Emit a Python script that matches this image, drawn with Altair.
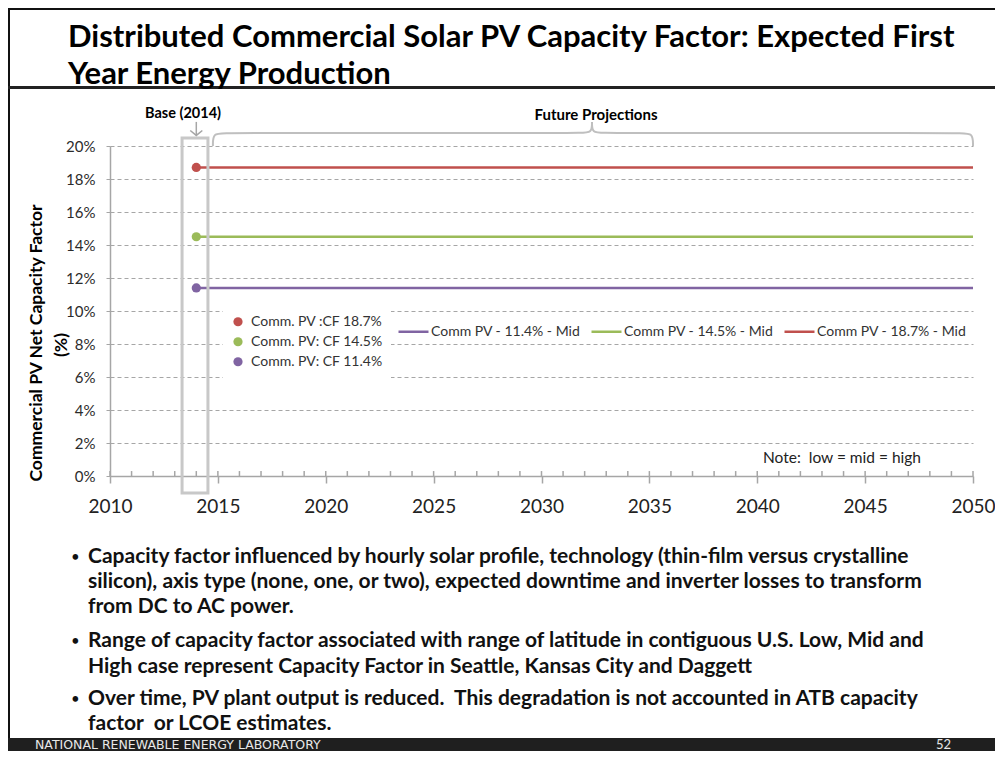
import altair as alt
import pandas as pd

# ---------------- data ----------------
years = list(range(2014, 2051))
line_labels = ["Comm PV - 11.4% - Mid", "Comm PV - 14.5% - Mid", "Comm PV - 18.7% - Mid"]
line_values = [0.114, 0.145, 0.187]
line_colors = ["#8064A2", "#9BBB59", "#C0504D"]

point_labels = ["Comm. PV :CF 18.7%", "Comm. PV: CF 14.5%", "Comm. PV: CF 11.4%"]
point_values = [0.187, 0.145, 0.114]
point_colors = ["#C0504D", "#9BBB59", "#8064A2"]
base_year = 2014

x_ticks = [2010, 2015, 2020, 2025, 2030, 2035, 2040, 2045, 2050]
minor_years = list(range(2010, 2051))
y_ticks = [0, 0.02, 0.04, 0.06, 0.08, 0.10, 0.12, 0.14, 0.16, 0.18, 0.20]

NB = "\u00a0"
title_lines = ["Distributed Commercial Solar PV Capacity Factor: Expected First",
               "Year Energy Production"]
bullets = [
    ["Capacity factor influenced by hourly solar profile, technology (thin-film versus crystalline",
     "silicon), axis type (none, one, or two), expected downtime and inverter losses to transform",
     "from DC to AC power."],
    ["Range of capacity factor associated with range of latitude in contiguous U.S. Low, Mid and",
     "High case represent Capacity Factor in Seattle, Kansas City and Daggett"],
    ["Over time, PV plant output is reduced." + NB + " This degradation is not accounted in ATB capacity",
     "factor" + NB + " or LCOE estimates."],
]
y_title = ["Commercial PV Net Capacity Factor", "(%)"]
note_text = "Note:" + NB + " low = mid = high"
footer_text = "NATIONAL RENEWABLE ENERGY LABORATORY"
page_number = "52"

# ---------------- layout helpers ----------------
OX, OY = 110, 146  # page position of plot origin
FONT = "Lato"
ONE = alt.Data(values=[{"t": ""}])

xs = alt.Scale(domain=[2010, 2050], nice=False, zero=False)
ys = alt.Scale(domain=[0, 0.2], nice=False, zero=False)


def txt(s, px, py, size, bold=False, align="left", baseline="alphabetic",
        color="#000000", font=FONT, angle=None):
    kw = dict(align=align, baseline=baseline, fontSize=size, font=font,
              fontWeight="bold" if bold else "normal", color=color)
    if angle is not None:
        kw["angle"] = angle
    return alt.Chart(alt.Data(values=[{"t": s}])).mark_text(**kw).encode(
        text="t:N", x=alt.value(px - OX), y=alt.value(py - OY))


def prule(x1, x2, y1, y2, color, width):
    return alt.Chart(ONE).mark_rule(color=color, strokeWidth=width).encode(
        x=alt.value(x1 - OX), x2=alt.value(x2 - OX),
        y=alt.value(y1 - OY), y2=alt.value(y2 - OY))


# ---------------- data tables ----------------
line_df = pd.DataFrame(
    [{"year": y, "val": v, "ln": lab} for lab, v in zip(line_labels, line_values) for y in years])
point_df = pd.DataFrame({"year": [base_year] * 3, "val": point_values, "pt": point_labels})
minor_df = pd.DataFrame({"year": minor_years})

# ---------------- chart marks ----------------
lines = alt.Chart(line_df).mark_line(strokeWidth=2.5).encode(
    x=alt.X("year:Q", scale=xs, title=None,
            axis=alt.Axis(values=x_ticks, format="d", labelFont=FONT, labelFontSize=19,
                          labelColor="#222222", tickSize=7, tickColor="#A6A6A6", tickWidth=1.5,
                          domainColor="#A6A6A6", domainWidth=1.5, labelPadding=14, grid=False,
                          tickCount=40, labelFlush=False, labelOverlap=False, title=None)),
    y=alt.Y("val:Q", scale=ys, title=None,
            axis=alt.Axis(values=y_ticks, format=".0%", labelFont=FONT, labelFontSize=15,
                          labelColor="#2B2B2B", tickSize=5, tickColor="#A6A6A6", tickDash=[4, 3],
                          grid=True, gridColor="#A6A6A6", gridDash=[4, 3], gridWidth=1,
                          domainColor="#A6A6A6", domainWidth=1.5, labelPadding=10,
                          tickCount=40, labelOverlap=False, labelFlush=False, title=None)),
    color=alt.Color("ln:N", scale=alt.Scale(domain=line_labels, range=line_colors),
                    legend=alt.Legend(title=None, orient="none", direction="horizontal",
                                      legendX=287, legendY=169, symbolType="stroke",
                                      symbolSize=900, symbolStrokeWidth=2.5,
                                      labelFont=FONT, labelFontSize=14, labelColor="#333333",
                                      labelOffset=1, columnPadding=5, padding=0)),
)

points = alt.Chart(point_df).mark_circle(size=85, opacity=1).encode(
    x=alt.X("year:Q", title=None),
    y=alt.Y("val:Q", title=None),
    color=alt.Color("pt:N", scale=alt.Scale(domain=point_labels, range=point_colors),
                    legend=alt.Legend(title=None, orient="none", legendX=113, legendY=158,
                                      symbolType="circle", symbolSize=85, symbolStrokeWidth=0,
                                      labelFont=FONT, labelFontSize=14, labelColor="#333333",
                                      labelOffset=6, fillColor="white", padding=8,
                                      clipHeight=19.5, rowPadding=0)),
)

minor_ticks = alt.Chart(minor_df).mark_rule(color="#A6A6A6", strokeWidth=1.5).encode(
    x=alt.X("year:Q", title=None),
    y=alt.YDatum(0, title=None),
    y2=alt.Y2Datum(0.003),
)

# Base (2014) highlight box and arrow, in data coordinates
box = alt.Chart(ONE).mark_rect(fillOpacity=0, stroke="#C8C8C8", strokeWidth=3).encode(
    x=alt.XDatum(2013.34, title=None), x2=alt.X2Datum(2014.54),
    y=alt.YDatum(-0.0103, title=None), y2=alt.Y2Datum(0.2048))

arrow_shaft = alt.Chart(ONE).mark_rule(color="#A6A6A6", strokeWidth=1.5).encode(
    x=alt.XDatum(2014, title=None), y=alt.YDatum(0.2146, title=None), y2=alt.Y2Datum(0.2064))
arrow_head_df = pd.DataFrame({"ax": [2013.72, 2014, 2014.28], "ay": [0.2094, 0.2064, 0.2094]})
arrow_head = alt.Chart(arrow_head_df).mark_line(color="#A6A6A6", strokeWidth=1.5).encode(
    x=alt.X("ax:Q", title=None), y=alt.Y("ay:Q", title=None), order="ax:Q")

brace_df = pd.DataFrame({
    "bx": [2014.77, 2014.77, 2015.33, 2031.78, 2032.34, 2032.34,
           2050.0, 2050.0, 2049.45, 2032.90, 2032.34, 2032.34],
    "by": [0.200, 0.2079, 0.2079, 0.2079, 0.2079, 0.2145,
           0.200, 0.2079, 0.2079, 0.2079, 0.2079, 0.2145],
    "half": ["a"] * 6 + ["b"] * 6,
    "k": list(range(6)) * 2,
})
brace = alt.Chart(brace_df).mark_line(color="#BFBFBF", strokeWidth=2, interpolate="basis").encode(
    x=alt.X("bx:Q", title=None), y=alt.Y("by:Q", title=None), detail="half:N", order="k:Q")

# ---------------- slide decorations ----------------
deco = [
    prule(8, 995, 9, 9, "#111111", 2),          # top frame
    prule(9, 9, 8, 738, "#111111", 2),          # left frame
    prule(8, 995, 87.5, 87.5, "#222222", 3),    # title underline
    alt.Chart(ONE).mark_rect(color="#1F1F1F").encode(
        x=alt.value(8 - OX), x2=alt.value(995 - OX),
        y=alt.value(738 - OY), y2=alt.value(751 - OY)),
    txt(title_lines[0], 68, 47, 31, bold=True),
    txt(title_lines[1], 68, 84, 31, bold=True),
    txt("Base (2014)", 183, 114, 14.5, bold=True, align="center", baseline="middle"),
    txt("Future Projections", 596, 115, 15, bold=True, align="center", baseline="middle"),
    txt(note_text, 763, 458, 15.5, align="left", baseline="middle", color="#222222"),
    txt(y_title[0], 37, 343, 17.5, bold=True, align="center", baseline="middle", angle=270),
    txt(y_title[1], 62, 345, 17.5, bold=True, align="center", baseline="middle", angle=270),
    txt(footer_text, 35, 745, 12.5, align="left", baseline="middle", color="#E8E8E8",
        font="DejaVu Sans"),
    txt(page_number, 936, 745, 13, align="left", baseline="middle", color="#E8E8E8"),
]

baselines = [[563, 588, 613], [647, 673], [705, 730]]
for blines, bys in zip(bullets, baselines):
    deco.append(txt("\u2022", 71, bys[0] - 1, 15, color="#111111"))
    for line, by in zip(blines, bys):
        deco.append(txt(line, 88, by, 21, bold=True, color="#111111"))

chart = alt.layer(
    lines, minor_ticks, box, arrow_shaft, arrow_head, brace, points, *deco
).resolve_scale(color="independent").properties(
    width=863, height=330,
    autosize=alt.AutoSizeParams(type="none"),
    padding={"left": 102, "top": 138, "right": 22, "bottom": 275},
    background="white",
).configure_view(stroke=None)

chart.save("out.html", embed_options={"renderer": "svg", "actions": False})
